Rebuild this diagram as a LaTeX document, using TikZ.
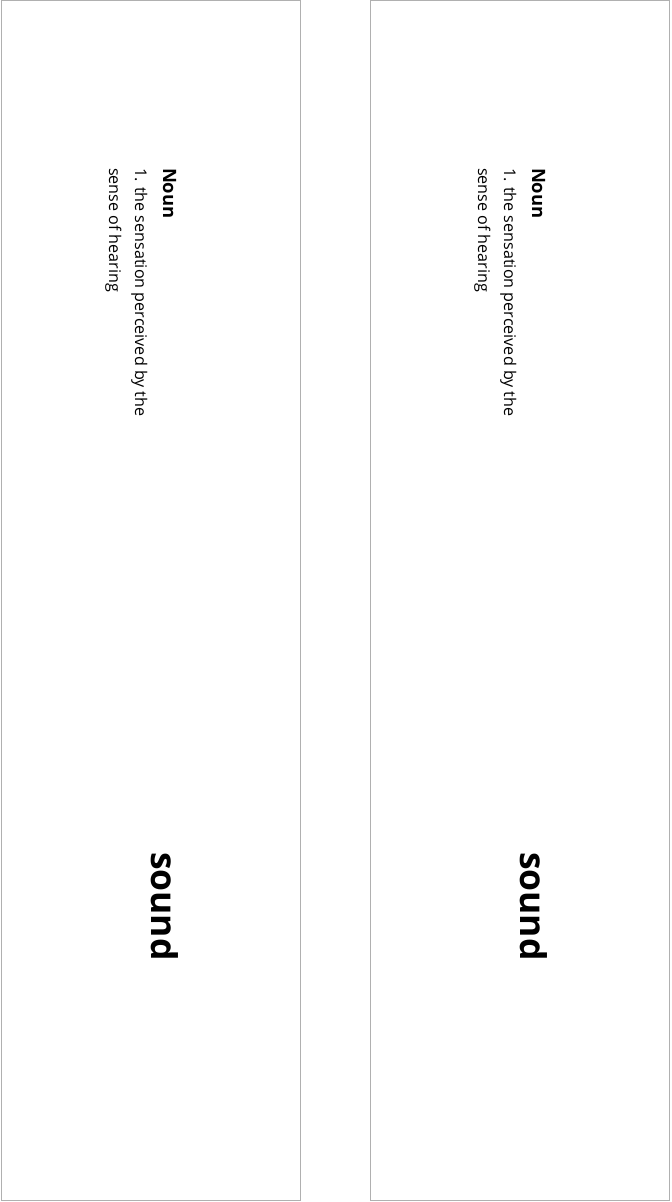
\documentclass[tikz,border=0pt]{standalone}
\usepackage{fontspec}
\setmainfont{Open Sans}
\definecolor{framegray}{HTML}{B0B0B0}
\begin{document}
\begin{tikzpicture}[x=0.75pt,y=-0.75pt,
  panel/.style={draw=framegray,line width=0.75pt},
  vtext/.style={rotate=-90,anchor=base west,inner sep=0pt,outer sep=0pt},
  headword/.style={vtext,font=\fontsize{13.8}{16}\selectfont\bfseries},
  deftext/.style={vtext,font=\fontsize{12.1}{14}\selectfont},
  bigword/.style={vtext,font=\fontsize{26.6}{32}\selectfont\bfseries}]
\useasboundingbox (0,0) rectangle (671,1202);
\foreach \dx/\n in {0/L,369/R}{
  \begin{scope}[xshift=\dx*0.75pt]
    \draw[panel] (1,1) rectangle (300.5,1200.5);
    \node[headword] (noun\n) at (163,168) {Noun};
    \node[deftext] (defa\n) at (135,168) {1. the sensation perceived by the};
    \node[deftext] (defb\n) at (109,168) {sense of hearing};
    \node[bigword] (word\n) at (151,852) {sound};
  \end{scope}
}
\end{tikzpicture}
\end{document}
